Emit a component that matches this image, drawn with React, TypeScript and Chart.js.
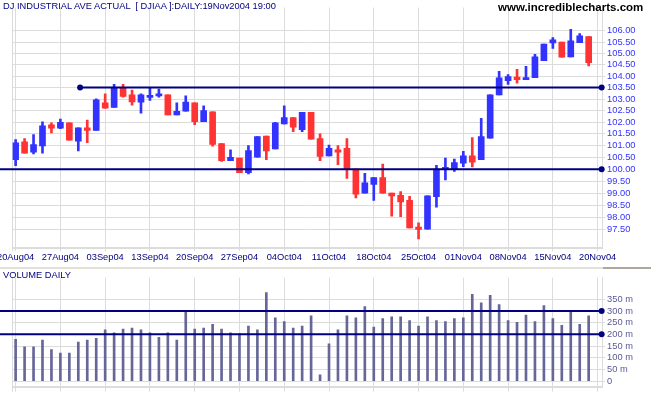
import React, { useEffect, useRef } from "react";
import { Chart, registerables } from "chart.js";

Chart.register(...registerables);

const FONT = '"Liberation Sans", Arial, sans-serif';
const BLUE = "#3333ff";
const RED = "#ff3333";
const NAVY = "#000080";
const GRID = "#dcdcdc";

// Daily OHLC (DJIA / 100), 20 Aug 2004 .. 19 Nov 2004
const opens = [
  100.40, 101.16, 100.72, 100.99, 101.89, 101.75, 101.97, 101.19, 101.76, 101.65,
  102.83, 102.64, 103.46, 103.18, 102.86, 103.07, 103.14, 103.18, 102.31, 102.47,
  102.84, 102.02, 102.45, 101.09, 100.36, 100.47, 99.86, 100.51, 101.41, 100.86,
  101.93, 102.20, 101.68, 102.43, 101.30, 100.56, 100.82, 100.89, 100.01, 99.00,
  99.37, 99.65, 99.00, 98.91, 98.70, 97.60, 97.51, 98.85, 99.99, 99.99,
  100.26, 100.57, 100.40, 101.32, 103.18, 103.80, 103.95, 103.84, 103.93, 104.68,
  105.46, 105.50, 104.84, 105.47, 105.74,
];
const highs = [
  101.26, 101.30, 101.47, 102.02, 101.97, 102.13, 101.97, 101.76, 102.09, 103.01,
  103.22, 103.64, 103.64, 103.39, 103.22, 103.48, 103.43, 103.18, 102.84, 103.14,
  102.84, 102.71, 102.45, 101.09, 100.82, 100.47, 101.00, 101.39, 101.41, 102.00,
  102.71, 102.20, 102.43, 102.43, 101.50, 101.02, 101.00, 101.30, 100.01, 99.83,
  99.65, 100.22, 99.00, 99.07, 98.87, 97.77, 98.89, 100.17, 100.47, 100.43,
  100.76, 101.34, 102.17, 103.18, 104.21, 104.07, 104.30, 104.43, 104.96, 105.41,
  105.70, 105.50, 106.06, 105.88, 105.74,
];
const lows = [
  100.15, 100.68, 100.65, 100.68, 101.54, 101.72, 101.23, 100.78, 101.13, 101.65,
  102.60, 102.64, 103.08, 102.73, 102.39, 102.94, 103.08, 102.31, 102.31, 102.47,
  101.89, 102.02, 100.98, 100.33, 100.36, 99.86, 99.80, 100.51, 100.40, 100.86,
  101.93, 101.60, 101.60, 101.27, 100.36, 100.56, 100.19, 99.62, 98.80, 99.00,
  98.70, 99.00, 98.05, 98.03, 97.56, 97.11, 97.51, 98.42, 99.55, 99.91,
  100.11, 100.10, 100.40, 101.32, 103.18, 103.64, 103.69, 103.84, 103.93, 104.68,
  105.22, 104.83, 104.84, 105.47, 104.45,
];
const closes = [
  101.12, 100.68, 101.04, 101.85, 101.75, 102.00, 101.23, 101.76, 101.65, 102.97,
  102.60, 103.48, 103.11, 102.87, 103.18, 103.15, 103.22, 102.31, 102.47, 102.87,
  102.02, 102.50, 101.05, 100.36, 100.50, 99.86, 100.79, 101.39, 100.78, 101.97,
  102.20, 101.79, 102.43, 101.27, 100.54, 100.89, 100.72, 99.99, 98.96, 99.43,
  99.65, 99.00, 98.89, 98.64, 97.56, 97.50, 98.89, 100.01, 100.08, 100.28,
  100.57, 100.30, 101.39, 103.18, 103.92, 103.98, 103.84, 103.93, 104.85, 105.41,
  105.60, 104.83, 105.55, 105.77, 104.59,
];
// Daily volume, millions
const volumes = [
  179, 147, 147, 175, 135, 120, 120, 167, 175, 183,
  219, 207, 223, 227, 219, 207, 187, 207, 175, 299,
  223, 227, 243, 223, 207, 203, 235, 219, 379, 271,
  255, 227, 235, 279, 27, 159, 219, 279, 271, 319,
  231, 267, 275, 275, 259, 235, 275, 259, 255, 267,
  271, 371, 335, 367, 327, 259, 251, 283, 255, 323,
  267, 239, 299, 243, 279,
];

const xTickIndices = [0, 5, 10, 15, 20, 25, 30, 35, 40, 45, 50, 55, 60, 65];
const xTickLabels = [
  "20Aug04", "27Aug04", "03Sep04", "13Sep04", "20Sep04", "27Sep04", "04Oct04",
  "11Oct04", "18Oct04", "25Oct04", "01Nov04", "08Nov04", "15Nov04", "20Nov04",
];
const priceTicks = [
  97.5, 98, 98.5, 99, 99.5, 100, 100.5, 101, 101.5, 102, 102.5, 103, 103.5,
  104, 104.5, 105, 105.5, 106,
];
const volumeTicks = [0, 50, 100, 150, 200, 250, 300, 350];

const resistanceLevel = 103.5;
const resistanceStart = 7.2;
const supportLevel = 100;
const volumeLevels = [300, 200];

const X_MIN = -0.35;
const X_MAX = 65.5;
const LINE_LEFT = -1.75;
const LINE_RIGHT = 65.45;

function xScale(showLabels: boolean, height: number, tickLength: number) {
  const labelMap = new Map<number, string>(
    xTickIndices.map((v, i) => [v, xTickLabels[i]])
  );
  return {
    type: "linear" as const,
    position: "bottom" as const,
    min: X_MIN,
    max: X_MAX,
    bounds: "data" as const,
    offset: false,
    grid: { color: GRID, lineWidth: 1, tickLength, offset: false, drawTicks: true },
    border: { display: true, color: GRID, width: 2 },
    ticks: {
      display: showLabels,
      autoSkip: false,
      maxRotation: 0,
      minRotation: 0,
      padding: 1,
      color: NAVY,
      font: { family: FONT, size: 9.3 },
      callback: (v: any) => labelMap.get(Number(v)) ?? "",
    },
    afterBuildTicks: (s: any) => {
      s.ticks = [X_MIN, ...xTickIndices].map((v) => ({ value: v }));
    },
    afterFit: (s: any) => {
      s.height = height;
    },
  };
}

export default function App() {
  const priceRef = useRef<HTMLCanvasElement>(null);
  const volRef = useRef<HTMLCanvasElement>(null);

  useEffect(() => {
    const idx = opens.map((_, i) => i);
    const colors = idx.map((i) => (closes[i] >= opens[i] ? BLUE : RED));

    const price = new Chart(priceRef.current!, {
      type: "bar",
      data: {
        datasets: [
          {
            type: "line",
            data: [
              { x: LINE_LEFT, y: supportLevel },
              { x: LINE_RIGHT, y: supportLevel },
            ],
            borderColor: NAVY,
            borderWidth: 2,
            pointRadius: [0, 3],
            pointBackgroundColor: NAVY,
            pointBorderWidth: 0,
            clip: false,
            order: 0,
          } as any,
          {
            type: "line",
            data: [
              { x: resistanceStart, y: resistanceLevel },
              { x: LINE_RIGHT, y: resistanceLevel },
            ],
            borderColor: NAVY,
            borderWidth: 2,
            pointRadius: 3,
            pointBackgroundColor: NAVY,
            pointBorderWidth: 0,
            clip: false,
            order: 0,
          } as any,
          {
            type: "bar",
            data: idx.map((i) => ({
              x: i,
              y: [Math.min(opens[i], closes[i]), Math.max(opens[i], closes[i])],
            })),
            backgroundColor: colors,
            barThickness: 6,
            minBarLength: 2,
            grouped: false,
            order: 1,
          } as any,
          {
            type: "bar",
            data: idx.map((i) => ({ x: i, y: [lows[i], highs[i]] })),
            backgroundColor: colors,
            barThickness: 2,
            grouped: false,
            order: 2,
          } as any,
        ],
      },
      options: {
        animation: false,
        responsive: false,
        maintainAspectRatio: false,
        devicePixelRatio: 1,
        layout: { padding: { left: 12.5, right: 0, top: 0, bottom: 0 } },
        plugins: { legend: { display: false }, tooltip: { enabled: false }, title: { display: false } },
        scales: {
          x: xScale(true, 17.7, 3) as any,
          y: {
            type: "logarithmic",
            position: "right",
            min: 96.73,
            max: 107.04,
            bounds: "data",
            grid: { color: GRID, lineWidth: 1, tickLength: 3 },
            border: { display: true, color: GRID, width: 1 },
            ticks: {
              padding: 2,
              color: BLUE,
              font: { family: FONT, size: 9.3 },
              callback: (v: any) => Number(v).toFixed(2),
            },
            afterBuildTicks: (s: any) => {
              s.ticks = priceTicks.map((v) => ({ value: v }));
            },
            afterFit: (s: any) => {
              s.width = 48.9;
            },
          } as any,
        },
      },
    });

    const vol = new Chart(volRef.current!, {
      type: "bar",
      data: {
        datasets: [
          ...volumeLevels.map(
            (lvl) =>
              ({
                type: "line",
                data: [
                  { x: LINE_LEFT, y: lvl },
                  { x: LINE_RIGHT, y: lvl },
                ],
                borderColor: NAVY,
                borderWidth: 2,
                pointRadius: [0, 3],
                pointBackgroundColor: NAVY,
                pointBorderWidth: 0,
                clip: false,
                order: 0,
              } as any)
          ),
          {
            type: "bar",
            data: idx.map((i) => ({ x: i, y: volumes[i] })),
            backgroundColor: "#666699",
            barThickness: 2,
            grouped: false,
            order: 1,
          } as any,
        ],
      },
      options: {
        animation: false,
        responsive: false,
        maintainAspectRatio: false,
        devicePixelRatio: 1,
        layout: { padding: { left: 12.5, right: 0, top: 0, bottom: 0 } },
        plugins: { legend: { display: false }, tooltip: { enabled: false }, title: { display: false } },
        scales: {
          x: xScale(false, 8.3, 5) as any,
          y: {
            type: "linear",
            position: "right",
            min: -24,
            max: 443,
            bounds: "data",
            grid: { color: GRID, lineWidth: 1, tickLength: 3 },
            border: { display: true, color: GRID, width: 1 },
            ticks: {
              padding: 2,
              color: "#5a5a96",
              font: { family: FONT, size: 9.3 },
              callback: (v: any) => (Number(v) === 0 ? "0" : `${v} m`),
            },
            afterBuildTicks: (s: any) => {
              s.ticks = volumeTicks.map((v) => ({ value: v }));
            },
            afterFit: (s: any) => {
              s.width = 48.9;
            },
          } as any,
        },
      },
    });

    return () => {
      price.destroy();
      vol.destroy();
    };
  }, []);

  return (
    <div
      style={{
        position: "absolute",
        left: 0,
        top: 0,
        width: 651,
        height: 395,
        background: "#ffffff",
        overflow: "hidden",
        fontFamily: FONT,
      }}
    >
      <canvas
        ref={priceRef}
        width={651}
        height={266}
        style={{ position: "absolute", left: 0, top: 0, width: 651, height: 266 }}
      />
      <div
        style={{ position: "absolute", left: 0, top: 267, width: 603, height: 2, background: "#e4e2d8" }}
      />
      <div
        style={{ position: "absolute", left: 603, top: 267, width: 48, height: 2, background: "#aca89c" }}
      />
      <canvas
        ref={volRef}
        width={651}
        height={125}
        style={{ position: "absolute", left: 0, top: 270, width: 651, height: 125 }}
      />
      <div
        style={{
          position: "absolute",
          left: 3,
          top: 0,
          fontSize: 9.3,
          lineHeight: "12px",
          color: NAVY,
          whiteSpace: "pre",
        }}
      >
        {"DJ INDUSTRIAL AVE ACTUAL  [ DJIAA ]:DAILY:19Nov2004 19:00"}
      </div>
      <div
        style={{
          position: "absolute",
          left: 498,
          top: 0,
          fontSize: 11.5,
          lineHeight: "14px",
          fontWeight: "bold",
          color: "#000000",
          whiteSpace: "pre",
        }}
      >
        www.incrediblecharts.com
      </div>
      <div
        style={{
          position: "absolute",
          left: 3,
          top: 269,
          fontSize: 9.3,
          lineHeight: "12px",
          color: NAVY,
          whiteSpace: "pre",
        }}
      >
        VOLUME DAILY
      </div>
    </div>
  );
}
